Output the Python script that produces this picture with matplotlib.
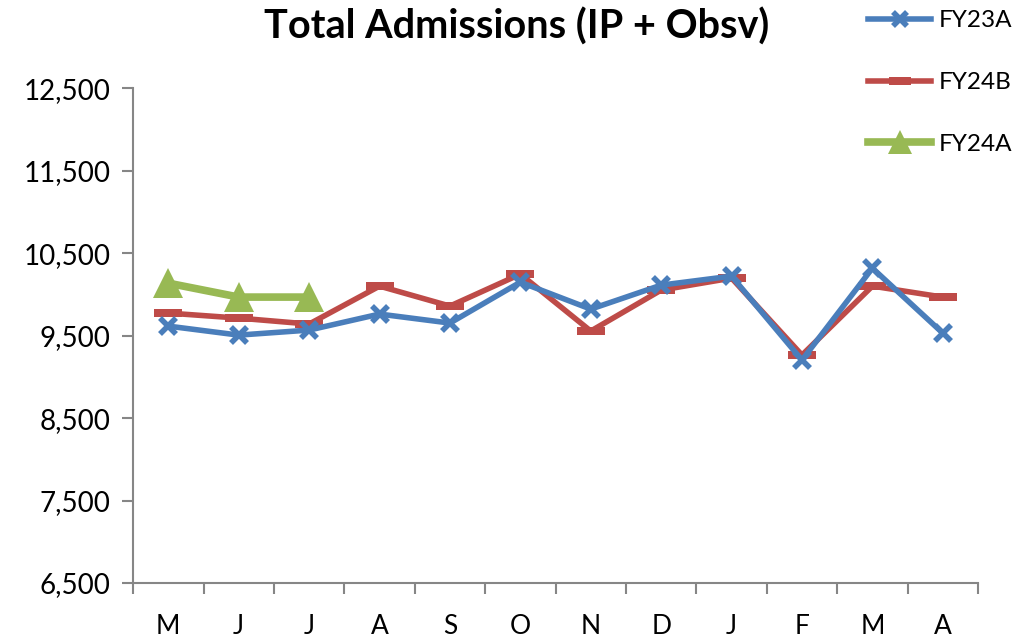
import matplotlib.pyplot as plt
import numpy as np
from matplotlib.ticker import FuncFormatter

# Months (May through April)
months = ["M", "J", "J", "A", "S", "O", "N", "D", "J", "F", "M", "A"]

# Series values
fy23a = [9615, 9506, 9567, 9761, 9652, 10148, 9821, 10112, 10221, 9203, 10318, 9530]
fy24b = [9773, 9712, 9640, 10100, 9858, 10245, 9555, 10052, 10197, 9264, 10100, 9967]
fy24a = [10136, 9967, 9967]

y_ticks = [6500, 7500, 8500, 9500, 10500, 11500, 12500]

plt.rcParams["font.family"] = ["Lato", "DejaVu Sans"]

fig = plt.figure(figsize=(10.16, 6.39), dpi=100)
ax = fig.add_axes([0.131, 0.0876, 0.8316, 0.7744])

x = np.arange(len(months))

# Flat bar marker for the budget series
bar_marker = [(-1, -0.32), (1, -0.32), (1, 0.32), (-1, 0.32), (-1, -0.32)]

ax.plot(x, fy23a, color="#4A7EBB", linewidth=4, marker="x", markersize=12,
        markeredgewidth=4, label="FY23A", zorder=3)
ax.plot(x, fy24b, color="#BE4B48", linewidth=4, marker=bar_marker, markersize=20,
        markeredgewidth=0, label="FY24B", zorder=2)
ax.plot(x[:len(fy24a)], fy24a, color="#98B954", linewidth=5.5, marker="^",
        markersize=21, markeredgewidth=0, label="FY24A", zorder=4)

ax.set_xlim(-0.5, len(months) - 0.5)
ax.set_ylim(6500, 12500)
ax.set_yticks(y_ticks)
ax.yaxis.set_major_formatter(FuncFormatter(lambda v, _: f"{int(v):,}"))

# Tick marks between categories, labels at centers
ax.set_xticks(np.arange(-0.5, len(months)), labels=[""] * (len(months) + 1))
ax.set_xticks(x, labels=months, minor=True)
ax.tick_params(axis="x", which="minor", length=0, pad=22, labelsize=19)
ax.tick_params(axis="x", which="major", length=8, width=1.5, color="#868686",
               direction="out")
ax.tick_params(axis="y", length=8, width=1.5, color="#868686", labelsize=20, pad=8)

for side in ["top", "right"]:
    ax.spines[side].set_visible(False)
for side in ["left", "bottom"]:
    ax.spines[side].set_color("#868686")
    ax.spines[side].set_linewidth(1.5)

fig.text(0.508, 0.958, "Total Admissions (IP + Obsv)", ha="center", va="center",
         fontsize=28.5, fontweight="bold")

fig.legend(loc="upper left", bbox_to_anchor=(868 / 1016, 0.984), frameon=False,
           fontsize=17.5, labelspacing=1.68, handlelength=2.6, handletextpad=0.3,
           borderpad=0, borderaxespad=0, markerscale=0.8)

fig.savefig("out.png", dpi=100)
